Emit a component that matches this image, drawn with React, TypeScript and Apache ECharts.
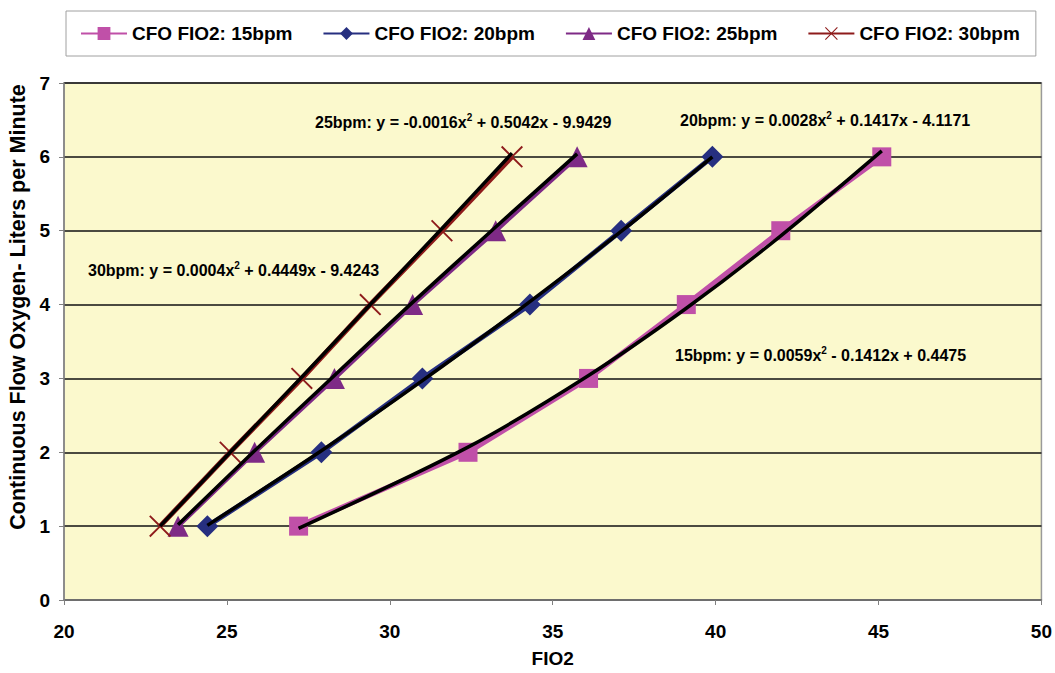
import React, { useEffect, useRef } from "react";
import * as echarts from "echarts";

const flowRates = [1, 2, 3, 4, 5, 6];
const fio2_15 = [27.2, 32.4, 36.1, 39.1, 42.0, 45.1];
const fio2_20 = [24.4, 27.9, 31.0, 34.3, 37.1, 39.9];
const fio2_25 = [23.5, 25.85, 28.3, 30.7, 33.25, 35.75];
const fio2_30 = [22.95, 25.1, 27.3, 29.4, 31.6, 33.75];

const trend15 = [0.97, 2.07, 3.04, 3.95, 4.93, 6.08];
const trend20 = [1.01, 2.02, 2.97, 4.04, 4.99, 6.0];
const trend25 = [1.02, 2.02, 3.04, 4.03, 5.05, 6.04];
const trend30 = [1.0, 2.0, 3.02, 4.0, 5.03, 6.05];

const seriesNames = ["CFO FIO2: 15bpm", "CFO FIO2: 20bpm", "CFO FIO2: 25bpm", "CFO FIO2: 30bpm"];
const equations = [
  ["15bpm: y = 0.0059x", " - 0.1412x + 0.4475"],
  ["20bpm: y = 0.0028x", " + 0.1417x - 4.1171"],
  ["25bpm: y = -0.0016x", " + 0.5042x - 9.9429"],
  ["30bpm: y = 0.0004x", " + 0.4449x - 9.4243"],
];

const FONT = '"Liberation Sans", Arial, sans-serif';
const COLORS = ["#C050A8", "#262F80", "#7E2A86", "#8E1B1B"];
const X_PATH =
  "path://M0,1.2 L1.2,0 L10,8.8 L18.8,0 L20,1.2 L11.2,10 L20,18.8 L18.8,20 L10,11.2 L1.2,20 L0,18.8 L8.8,10 Z";

function pairs(xs: number[], ys: number[]) {
  return xs.map((x, i) => [x, ys[i]]);
}

export default function App() {
  const ref = useRef<HTMLDivElement>(null);
  useEffect(() => {
    if (!ref.current) return;
    const chart = echarts.init(ref.current, undefined, { renderer: "svg" });
    const xsList = [fio2_15, fio2_20, fio2_25, fio2_30];
    const trends = [trend15, trend20, trend25, trend30];
    const symbols = ["rect", "diamond", "triangle", X_PATH];
    const sizes = [19, 22, 21, 22];
    const widths = [5, 5, 4.5, 5];

    const dataSeries = xsList.map((xs, i) => ({
      type: "line",
      name: seriesNames[i],
      data: pairs(xs, flowRates),
      symbol: symbols[i],
      symbolSize: sizes[i],
      showAllSymbol: true,
      lineStyle: { color: COLORS[i], width: widths[i] },
      itemStyle: { color: COLORS[i] },
      z: 2,
    }));
    const trendSeries = trends.map((ys, i) => ({
      type: "line",
      name: "trend" + i,
      data: pairs(xsList[i], ys),
      smooth: 0.3,
      symbol: "none",
      silent: true,
      lineStyle: { color: "#000", width: 3.5 },
      z: 5,
    }));

    const eqPos = [
      [675, 355],
      [680, 120],
      [315, 122],
      [88, 270],
    ];
    const rich = {
      a: { fontFamily: FONT, fontWeight: "bold", fontSize: 16, lineHeight: 20, fill: "#000" },
      s: { fontFamily: FONT, fontWeight: "bold", fontSize: 10, lineHeight: 12, verticalAlign: "top", fill: "#000" },
    } as any;
    const eqGraphics = equations.map((eq, i) => ({
      type: "text",
      x: eqPos[i][0],
      y: eqPos[i][1],
      z: 10,
      style: {
        text: `{a|${eq[0]}}{s|2}{a|${eq[1]}}`,
        rich,
        verticalAlign: "middle",
        align: "left",
      },
    }));

    chart.setOption({
      animation: false,
      backgroundColor: "#fff",
      textStyle: { fontFamily: FONT },
      grid: {
        left: 64,
        right: 13,
        top: 83,
        bottom: 71,
        show: true,
        backgroundColor: "#FBF9CD",
        borderColor: "#9A9A9A",
        borderWidth: 1.5,
      },
      legend: {
        data: seriesNames,
        left: 66,
        top: 11,
        itemWidth: 46,
        itemHeight: 16,
        itemGap: 30,
        padding: [13, 16, 13, 14],
        borderColor: "#A0A0A0",
        borderWidth: 1,
        backgroundColor: "#fff",
        textStyle: { fontFamily: FONT, fontWeight: "bold", fontSize: 19, color: "#000" },
      },
      xAxis: {
        type: "value",
        min: 20,
        max: 50,
        interval: 5,
        name: "FIO2",
        nameLocation: "middle",
        nameGap: 49,
        nameTextStyle: { fontFamily: FONT, fontWeight: "bold", fontSize: 19, color: "#000" },
        axisLine: { show: true, lineStyle: { color: "#808080", width: 1.5 } },
        axisTick: { show: true, length: 5, lineStyle: { color: "#808080" } },
        axisLabel: { fontFamily: FONT, fontWeight: "bold", fontSize: 19, color: "#000", margin: 22 },
        splitLine: { show: false },
      },
      yAxis: {
        type: "value",
        min: 0,
        max: 7,
        interval: 1,
        axisLine: { show: true, lineStyle: { color: "#808080", width: 1.5 } },
        axisTick: { show: true, length: 5, lineStyle: { color: "#808080" } },
        axisLabel: { fontFamily: FONT, fontWeight: "bold", fontSize: 19, color: "#000", margin: 14 },
        splitLine: { show: true, lineStyle: { color: "#111", width: 1.5 } },
      },
      graphic: [
        {
          type: "text",
          x: 18,
          y: 307,
          rotation: Math.PI / 2,
          style: {
            text: "Continuous Flow Oxygen- Liters per Minute",
            fontFamily: FONT,
            fontWeight: "bold",
            fontSize: 21.5,
            fill: "#000",
            align: "center",
            verticalAlign: "middle",
          },
        },
        ...eqGraphics,
      ],
      series: [...dataSeries, ...trendSeries],
    });
    return () => chart.dispose();
  }, []);
  return (
    <div
      ref={ref}
      style={{ position: "absolute", left: 0, top: 0, width: 1055, height: 673 }}
    />
  );
}
